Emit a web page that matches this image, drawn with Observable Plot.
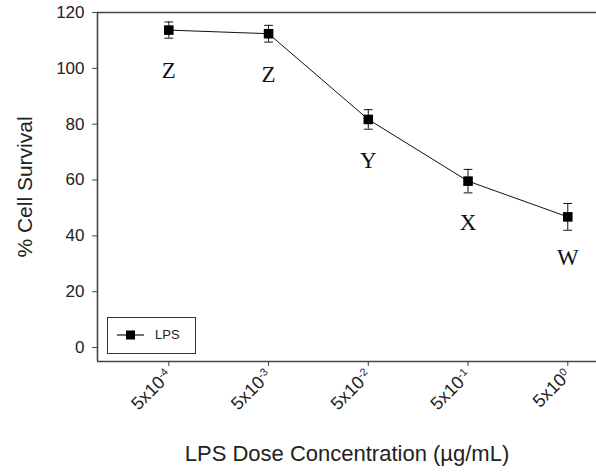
<!DOCTYPE html>
<html>
<head>
<meta charset="utf-8">
<script src="https://cdn.jsdelivr.net/npm/d3@7"></script>
<script src="https://cdn.jsdelivr.net/npm/@observablehq/plot@0.6"></script>
<style>
  html, body { margin: 0; padding: 0; background: #fff; }
  #wrap { position: relative; width: 596px; height: 473px; }
  #legend {
    position: absolute; left: 107px; top: 317px; width: 87px; height: 35px;
    border: 1.5px solid #333; background: #fff; box-sizing: content-box;
    font: 13px "Liberation Sans", Arial, sans-serif; color: #222;
  }
  #legend svg { position: absolute; left: 8px; top: 10px; }
  #legend span { position: absolute; left: 47px; top: 9px; }
</style>
</head>
<body>
<div id="wrap"></div>
<script>
// LPS dose–response: mean % cell survival with error bars and significance letters
const doseBase = "5x10";
const doseExponents = ["-4", "-3", "-2", "-1", "0"];
const survival = [113.7, 112.4, 81.7, 59.6, 46.8];
const errors = [2.9, 3.0, 3.5, 4.2, 4.8];
const groups = ["Z", "Z", "Y", "X", "W"];
const yTicks = [0, 20, 40, 60, 80, 100, 120];

const data = doseExponents.map((e, i) => ({i, y: survival[i], e: errors[i], g: groups[i]}));
const capHalf = 0.044; // half-width of the error-bar caps, in dose-index units

const ink = "#222";
const axisColor = "#444";
const sans = "'Liberation Sans', Arial, sans-serif";

const chart = Plot.plot({
  width: 596,
  height: 473,
  marginLeft: 97,
  marginRight: 0,
  marginTop: 12,
  marginBottom: 112,
  style: {fontFamily: sans, color: ink, background: "#fff"},
  x: {type: "linear", domain: [-0.715, 4.288]},
  y: {domain: [-5, 120]},
  marks: [
    // frame: left axis line, bottom axis line, top border
    Plot.ruleX([-0.715], {stroke: axisColor, strokeWidth: 1.6}),
    Plot.ruleY([-5], {stroke: axisColor, strokeWidth: 1.6}),
    Plot.ruleY([120], {stroke: axisColor, strokeWidth: 1.6}),
    Plot.axisY({
      ticks: yTicks, tickSize: 5, tickPadding: 8, fontSize: 17,
      stroke: axisColor, label: null
    }),
    Plot.axisX({
      ticks: d3.range(doseExponents.length), tickFormat: i => doseBase + "^" + doseExponents[i],
      tickSize: 5, tickPadding: 6, tickRotate: -45, fontSize: 18,
      stroke: axisColor, label: null
    }),
    // axis titles
    Plot.text(["% Cell Survival"], {frameAnchor: "left", textAnchor: "middle", dx: -72, rotate: -90, fontSize: 21, fill: ink}),
    Plot.text(["LPS Dose Concentration (\u00B5g/mL)"], {frameAnchor: "bottom", dy: 99, fontSize: 22, fill: ink}),
    // connecting line
    Plot.line(data, {x: "i", y: "y", stroke: "#111", strokeWidth: 1}),
    // error bars with caps
    Plot.ruleX(data, {x: "i", y1: d => d.y - d.e, y2: d => d.y + d.e, stroke: "#111", strokeWidth: 1}),
    Plot.link(data, {x1: d => d.i - capHalf, x2: d => d.i + capHalf, y1: d => d.y + d.e, y2: d => d.y + d.e, stroke: "#111", strokeWidth: 1}),
    Plot.link(data, {x1: d => d.i - capHalf, x2: d => d.i + capHalf, y1: d => d.y - d.e, y2: d => d.y - d.e, stroke: "#111", strokeWidth: 1}),
    // filled square markers
    Plot.dot(data, {x: "i", y: "y", symbol: "square", r: 5.4, fill: "#000", stroke: "none"}),
    // significance letters under each point
    Plot.text(data, {x: "i", y: "y", text: "g", dy: 41, fontSize: 23, fontFamily: "'Liberation Serif', 'Times New Roman', serif", fill: "#111"})
  ]
});

// render dose exponents as raised superscripts
d3.select(chart).selectAll('g[aria-label="x-axis tick label"] text').each(function () {
  const [base, exp] = this.textContent.split("^");
  const t = d3.select(this).text(null);
  t.append("tspan").text(base);
  t.append("tspan").attr("dy", "-0.55em").attr("font-size", "0.6em").text(exp);
});

const wrap = document.getElementById("wrap");
wrap.appendChild(chart);

// legend box
const legend = document.createElement("div");
legend.id = "legend";
legend.innerHTML = `<svg width="30" height="14"><line x1="1" y1="7" x2="28" y2="7" stroke="#111" stroke-width="1.2"/><rect x="10" y="2.5" width="9" height="9" fill="#000"/></svg><span>LPS</span>`;
wrap.appendChild(legend);
</script>
</body>
</html>
